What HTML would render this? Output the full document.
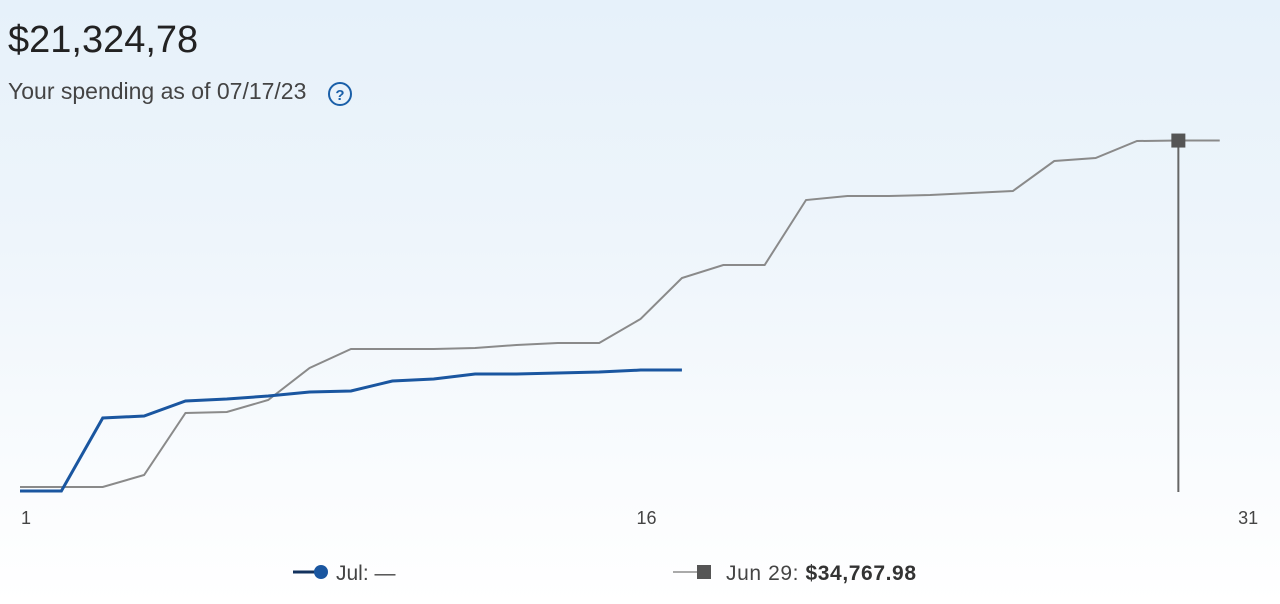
<!DOCTYPE html>
<html><head><meta charset="utf-8"><style>
html,body{margin:0;padding:0}
body{width:1280px;height:604px;overflow:hidden;background:linear-gradient(#e6f1fa 0%,#eef5fb 40%,#fafcfe 80%,#ffffff 100%);font-family:"Liberation Sans",sans-serif;position:relative}
.total{position:absolute;left:8px;top:19px;font-size:38px;color:#222}
.sub{position:absolute;left:8px;top:78px;font-size:23px;color:#444}
svg{position:absolute;left:0;top:0}
</style></head><body>
<div class="total">$21,324,78</div>
<div class="sub">Your spending as of 07/17/23</div>
<svg width="1280" height="604" id="chart">
<g><circle cx="340" cy="94" r="11" fill="none" stroke="#1a5fa8" stroke-width="2"/><text x="340" y="100" font-size="15" font-weight="bold" text-anchor="middle" fill="#1a5fa8" font-family="Liberation Sans">?</text></g>
</svg>
<script>
const junDays=[1,2,3,4,5,6,7,8,9,10,11,12,13,14,15,16,17,18,19,20,21,22,23,24,25,26,27,28,29,30];
const junValues=[14476,14476,14476,15179,18810,18868,19571,21446,22558,22558,22558,22617,22793,22910,22910,24316,26717,27478,27478,31285,31520,31520,31578,31695,31812,33569,33745,34741,34768,34768];
const julDays=[1,2,3,4,5,6,7,8,9,10,11,12,13,14,15,16,17];
const julValues=[14241,14241,18517,18634,19513,19630,19806,20040,20099,20684,20801,21094,21094,21153,21211,21325,21325];
const xTicks=[1,16,31];
const selectedDay=29;
const yMin=14300,yMax=34800;
const x=d=>20+(d-1)*41.37;
const y=v=>490-(v-yMin)/(yMax-yMin)*350;
const svg=document.getElementById('chart');
const NS='http://www.w3.org/2000/svg';
function mk(t,a){const e=document.createElementNS(NS,t);for(const k in a)e.setAttribute(k,a[k]);svg.appendChild(e);return e;}
const selIdx=junDays.indexOf(selectedDay);
const vl=mk('line',{x1:x(selectedDay),x2:x(selectedDay),y1:y(junValues[selIdx]),y2:492,stroke:'#666','stroke-width':2});


const jp=mk('polyline',{points:junDays.map((d,i)=>x(d)+','+y(junValues[i])).join(' '),fill:'none',stroke:'#8a8a8a','stroke-width':2});


const bp=mk('polyline',{points:julDays.map((d,i)=>x(d)+','+y(julValues[i])).join(' '),fill:'none',stroke:'#1a56a0','stroke-width':3});


const mkr=mk('rect',{x:x(selectedDay)-7,y:y(junValues[selIdx])-7,width:14,height:14,fill:'#555'});


xTicks.forEach(t=>{const tx=mk('text',{x:x(t)+(t===31?-13:6),y:524,'font-size':18,fill:'#444','text-anchor':'middle','font-family':'Liberation Sans'});tx.textContent=t;

});
</script>
<svg width="1280" height="604" style="pointer-events:none">
<g>
<line x1="293" y1="572" x2="318" y2="572" stroke="#13325e" stroke-width="3"/><circle cx="321" cy="572" r="7" fill="#1a56a0"/>
<text x="336" y="580" font-size="21" fill="#444" font-family="Liberation Sans">Jul: —</text></g>
<g>
<line x1="673" y1="572" x2="698" y2="572" stroke="#aaa" stroke-width="2"/><rect x="697" y="565" width="14" height="14" fill="#555"/>
<text x="726" y="580" font-size="21" fill="#444" font-family="Liberation Sans" textLength="190">Jun 29: <tspan font-weight="bold" fill="#333">$34,767.98</tspan></text></g>
</svg>
</body></html>
